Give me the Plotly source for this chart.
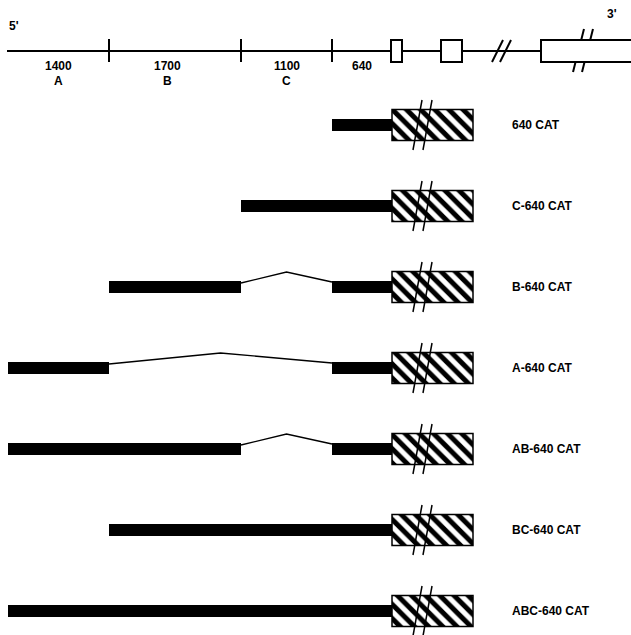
import plotly.graph_objects as go

# ---- data ----
region_names = ["A", "B", "C", "640"]
region_lengths = ["1400", "1700", "1100", "640"]
region_bounds = [8, 109, 241, 332, 392]          # drawing units along the map
exon_starts = [391, 441, 541]
exon_ends = [402, 462, 660]
line_break_x = 500
exon_break_x = 584
cat_start, cat_end = 392, 473

constructs = ["640 CAT", "C-640 CAT", "B-640 CAT", "A-640 CAT",
              "AB-640 CAT", "BC-640 CAT", "ABC-640 CAT"]
construct_regions = [
    ["640"],
    ["C", "640"],
    ["B", "640"],
    ["A", "640"],
    ["A", "B", "640"],
    ["B", "C", "640"],
    ["A", "B", "C", "640"],
]

# ---- styles / layout constants ----
FONT = "Liberation Sans, Arial, sans-serif"
map_y = 51
row0, row_step = 125, 81
bar_h = 12
cat_h = 31
label_x = 510


def bold(t):
    return "<b>" + t + "</b>"


fig = go.Figure()
shapes = []
annotations = []

# ---- top map ----
fig.add_trace(go.Scatter(x=[region_bounds[0] - 1, 631], y=[map_y, map_y], mode="lines",
                         line=dict(color="black", width=2), hoverinfo="skip"))
for b in region_bounds[1:4]:
    shapes.append(dict(type="line", x0=b, x1=b, y0=map_y - 12, y1=map_y + 11,
                       line=dict(color="black", width=2)))
for i, (nm, ln) in enumerate(zip(region_names, region_lengths)):
    cx = (region_bounds[i] + region_bounds[i + 1]) / 2
    if nm == "B":
        cx -= 8
    annotations.append(dict(x=cx, y=map_y + 15, text=bold(ln), showarrow=False, yanchor="middle",
                            font=dict(family=FONT, size=12, color="black"), xanchor="center"))
    if nm != "640":
        annotations.append(dict(x=cx, y=map_y + 30, text=bold(nm), showarrow=False, yanchor="middle",
                                font=dict(family=FONT, size=12, color="black"), xanchor="center"))
# break slashes on line
for dx in (0, 8):
    shapes.append(dict(type="line", x0=line_break_x - 8 + dx, y0=map_y + 11,
                       x1=line_break_x + 3 + dx, y1=map_y - 11,
                       line=dict(color="black", width=2)))
# break slashes across big exon (drawn before the exon so it hides the middle)
for dx in (0, 9):
    shapes.append(dict(type="line", x0=exon_break_x - 11 + dx, y0=map_y + 21,
                       x1=exon_break_x + dx, y1=map_y - 22,
                       line=dict(color="black", width=2)))
for s, e in zip(exon_starts, exon_ends):
    shapes.append(dict(type="rect", x0=s, x1=e, y0=map_y - 11, y1=map_y + 11,
                       fillcolor="white", line=dict(color="black", width=2)))
annotations.append(dict(x=14, y=26, text=bold("5'"), showarrow=False,
                        font=dict(family=FONT, size=12, color="black")))
annotations.append(dict(x=612, y=14, text=bold("3'"), showarrow=False,
                        font=dict(family=FONT, size=12, color="black")))

# ---- constructs ----
bar_y, bar_base, bar_len = [], [], []
for i, (name, regs) in enumerate(zip(constructs, construct_regions)):
    y = row0 + row_step * i
    idx = [region_names.index(r) for r in regs]
    runs = []
    for k in idx:
        if runs and runs[-1][1] == k - 1:
            runs[-1][1] = k
        else:
            runs.append([k, k])
    for r0, r1 in runs:
        bar_y.append(y)
        bar_base.append(region_bounds[r0])
        bar_len.append(region_bounds[r1 + 1] - region_bounds[r0])
    for a, b in zip(runs[:-1], runs[1:]):
        xs = region_bounds[a[1] + 1]
        xe = region_bounds[b[0]]
        fig.add_trace(go.Scatter(x=[xs, (xs + xe) / 2, xe], y=[y - 4, y - 15, y - 5],
                                 mode="lines", line=dict(color="black", width=1.3),
                                 hoverinfo="skip"))
    annotations.append(dict(x=label_x, y=y, text=bold(name), showarrow=False, xanchor="left",
                            yanchor="middle",
                            font=dict(family=FONT, size=12, color="black")))

fig.add_trace(go.Bar(orientation="h", y=bar_y, base=bar_base, x=bar_len,
                     width=[bar_h] * len(bar_y),
                     marker=dict(color="black", line=dict(width=0)), hoverinfo="skip"))

cat_y = [row0 + row_step * i for i in range(len(constructs))]
fig.add_trace(go.Bar(orientation="h", y=cat_y, base=[cat_start] * len(cat_y),
                     x=[cat_end - cat_start] * len(cat_y), width=[cat_h] * len(cat_y),
                     marker=dict(color="white", line=dict(color="black", width=1.5),
                                 pattern=dict(shape="\\", fgcolor="black", bgcolor="white",
                                              size=10, solidity=0.5, fillmode="replace")),
                     hoverinfo="skip"))
for y in cat_y:
    for dx in (0, 10):
        fig.add_trace(go.Scatter(x=[cat_start + 30 + dx, cat_start + 21 + dx],
                                 y=[y - 25, y + 25], mode="lines",
                                 line=dict(color="black", width=1.5), hoverinfo="skip"))

fig.update_layout(
    width=631, height=635, autosize=False,
    margin=dict(l=0, r=0, t=0, b=0),
    paper_bgcolor="white", plot_bgcolor="white",
    showlegend=False, barmode="overlay",
    xaxis=dict(range=[0, 631], visible=False, fixedrange=True),
    yaxis=dict(range=[635, 0], visible=False, fixedrange=True),
    shapes=shapes, annotations=annotations,
)
fig.write_html("out.html", config={"displayModeBar": False},
               post_script="document.body.style.margin='0';document.body.style.overflow='hidden';")
